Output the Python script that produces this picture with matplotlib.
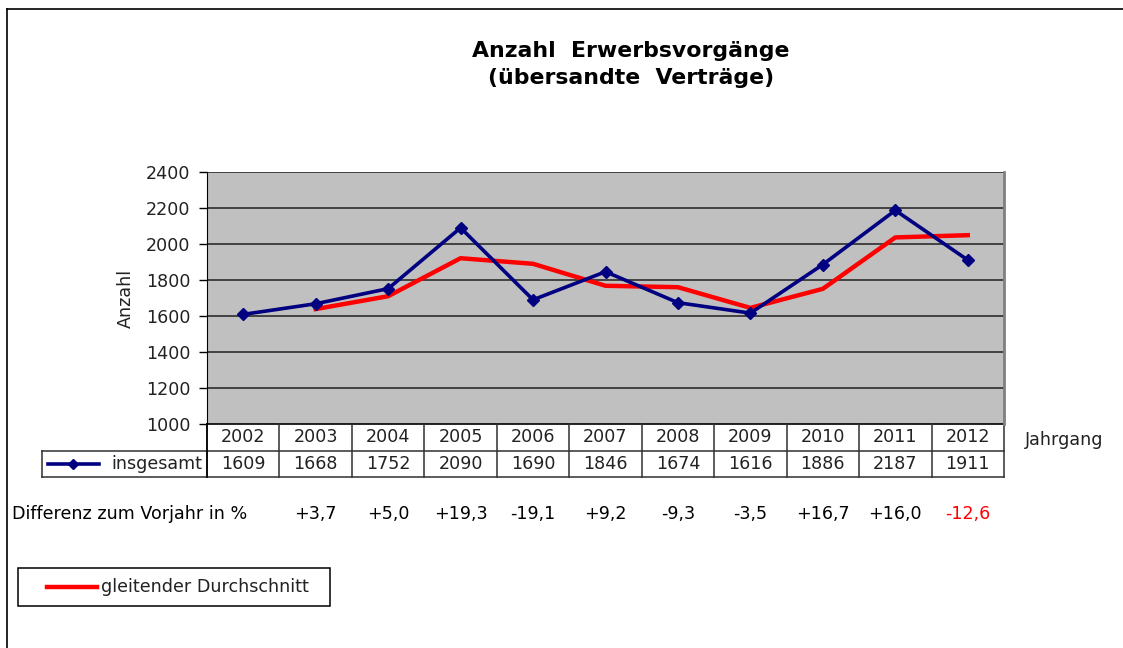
import matplotlib.pyplot as plt
from matplotlib.lines import Line2D
from matplotlib.patches import Rectangle
from matplotlib.transforms import blended_transform_factory

years = ["2002", "2003", "2004", "2005", "2006", "2007", "2008", "2009", "2010", "2011", "2012"]
insgesamt = [1609, 1668, 1752, 2090, 1690, 1846, 1674, 1616, 1886, 2187, 1911]
# moving average starts with the second year
avg_years = ["2003", "2004", "2005", "2006", "2007", "2008", "2009", "2010", "2011", "2012"]
gleitend = [1638.5, 1710, 1921, 1890, 1768, 1760, 1645, 1751, 2036.5, 2049]
diff_pct = ["+3,7", "+5,0", "+19,3", "-19,1", "+9,2", "-9,3", "-3,5", "+16,7", "+16,0", "-12,6"]
y_ticks = [1000, 1200, 1400, 1600, 1800, 2000, 2200, 2400]

W, H = 1123, 648
NAVY = "#000080"
RED = "#ff0000"
TXT = "#222222"
FS = 12.6


def px(x0, y0, w, h):
    # pixel box (from top-left) -> figure fraction rect
    return [x0 / W, (H - y0 - h) / H, w / W, h / H]


fig = plt.figure(figsize=(W / 100, H / 100), dpi=100)
fig.patch.set_facecolor("white")

# outer frame (top and left edge)
fig.add_artist(Line2D([7 / W, 1.0], [1 - 9 / H, 1 - 9 / H], color="black", lw=1.2,
                      transform=fig.transFigure))
fig.add_artist(Line2D([7 / W, 7 / W], [0, 1 - 9 / H], color="black", lw=1.2,
                      transform=fig.transFigure))

fig.text(631 / W, 1 - 51 / H, "Anzahl  Erwerbsvorgänge", ha="center", va="center",
         fontsize=15.8, fontweight="bold", color="black")
fig.text(631 / W, 1 - 78 / H, "(übersandte  Verträge)", ha="center", va="center",
         fontsize=15.8, fontweight="bold", color="black")

ax = fig.add_axes(px(207, 172, 797, 252))
ax.set_facecolor("#c0c0c0")
xs = list(range(len(years)))
x_avg = [years.index(y) for y in avg_years]

ax.plot(x_avg, gleitend, color=RED, lw=3.2, solid_joinstyle="miter", zorder=3)
ax.plot(xs, insgesamt, color=NAVY, lw=2.6, marker="D", markersize=6.5,
        solid_joinstyle="miter", zorder=4)

ax.set_xlim(-0.5, len(years) - 0.5)
ax.set_ylim(1000, 2400)
ax.set_yticks(y_ticks)
ax.set_yticklabels([str(v) for v in y_ticks], fontsize=FS, color=TXT)
ax.set_xticks([])
ax.tick_params(axis="y", direction="out", length=6, width=1, pad=6)
for v in y_ticks[1:]:
    ax.axhline(v, color="#202020", lw=1.1, zorder=1)
for s in ["top", "bottom"]:
    ax.spines[s].set_visible(False)
ax.spines["left"].set_color("black")
ax.spines["right"].set_color("#808080")
ax.spines["right"].set_linewidth(2)
ax.set_ylabel("Anzahl", fontsize=FS, color=TXT, labelpad=8)

# data table below the plot area
tr = blended_transform_factory(ax.transData, ax.transAxes)
r1 = -27 / 252
r2 = -53 / 252
x_leg = -0.5 - (207 - 42) / (797 / len(years))
kw = dict(color="#303030", lw=1.1, transform=tr, clip_on=False)
ax.plot([-0.5, len(years) - 0.5], [0, 0], color="black", lw=1.2, transform=tr, clip_on=False)
ax.plot([x_leg, len(years) - 0.5], [r1, r1], **kw)
ax.plot([x_leg, len(years) - 0.5], [r2, r2], **kw)
ax.plot([x_leg, x_leg], [r1, r2], **kw)
for i in range(len(years) + 1):
    ax.plot([i - 0.5, i - 0.5], [0, r2], **kw)
ax.plot([-0.5, -0.5], [0, r2], color="black", lw=1.2, transform=tr, clip_on=False)

for i, (y, v) in enumerate(zip(years, insgesamt)):
    ax.text(i, (0 + r1) / 2, y, ha="center", va="center", fontsize=FS, color=TXT,
            transform=tr)
    ax.text(i, (r1 + r2) / 2, str(v), ha="center", va="center", fontsize=FS, color=TXT,
            transform=tr)

# series key in the table row
ym = (r1 + r2) / 2
ax.add_line(Line2D([x_leg + 0.08, x_leg + 0.78], [ym, ym], color=NAVY, lw=2.6,
                   transform=tr, clip_on=False))
ax.add_line(Line2D([x_leg + 0.43], [ym], color=NAVY, marker="D", markersize=5,
                   transform=tr, clip_on=False))
ax.text(-0.57, ym, "insgesamt", ha="right", va="center", fontsize=FS, color=TXT,
        transform=tr)

ax.text(1025 / W, 1 - 440 / H, "Jahrgang", ha="left", va="center", fontsize=FS,
        color=TXT, transform=fig.transFigure)

# change against the previous year
fig.text(12 / W, 1 - 514 / H, "Differenz zum Vorjahr in %", ha="left", va="center",
         fontsize=FS, color="black")
for yr, d in zip(avg_years, diff_pct):
    ax.text(years.index(yr), 1 - 514 / H, d, ha="center", va="center", fontsize=FS,
            color=RED if d == diff_pct[-1] else "black",
            transform=blended_transform_factory(ax.transData, fig.transFigure))

# legend for the moving average
fig.add_artist(Rectangle((18 / W, 1 - 606 / H), 312 / W, 38 / H, fill=False,
                         edgecolor="black", lw=1.1, transform=fig.transFigure))
fig.add_artist(Line2D([47 / W, 97 / W], [1 - 587 / H, 1 - 587 / H], color=RED, lw=3.2,
                      transform=fig.transFigure))
fig.text(101 / W, 1 - 587 / H, "gleitender Durchschnitt", ha="left", va="center",
         fontsize=FS, color=TXT)

fig.savefig("out.png", dpi=100)
